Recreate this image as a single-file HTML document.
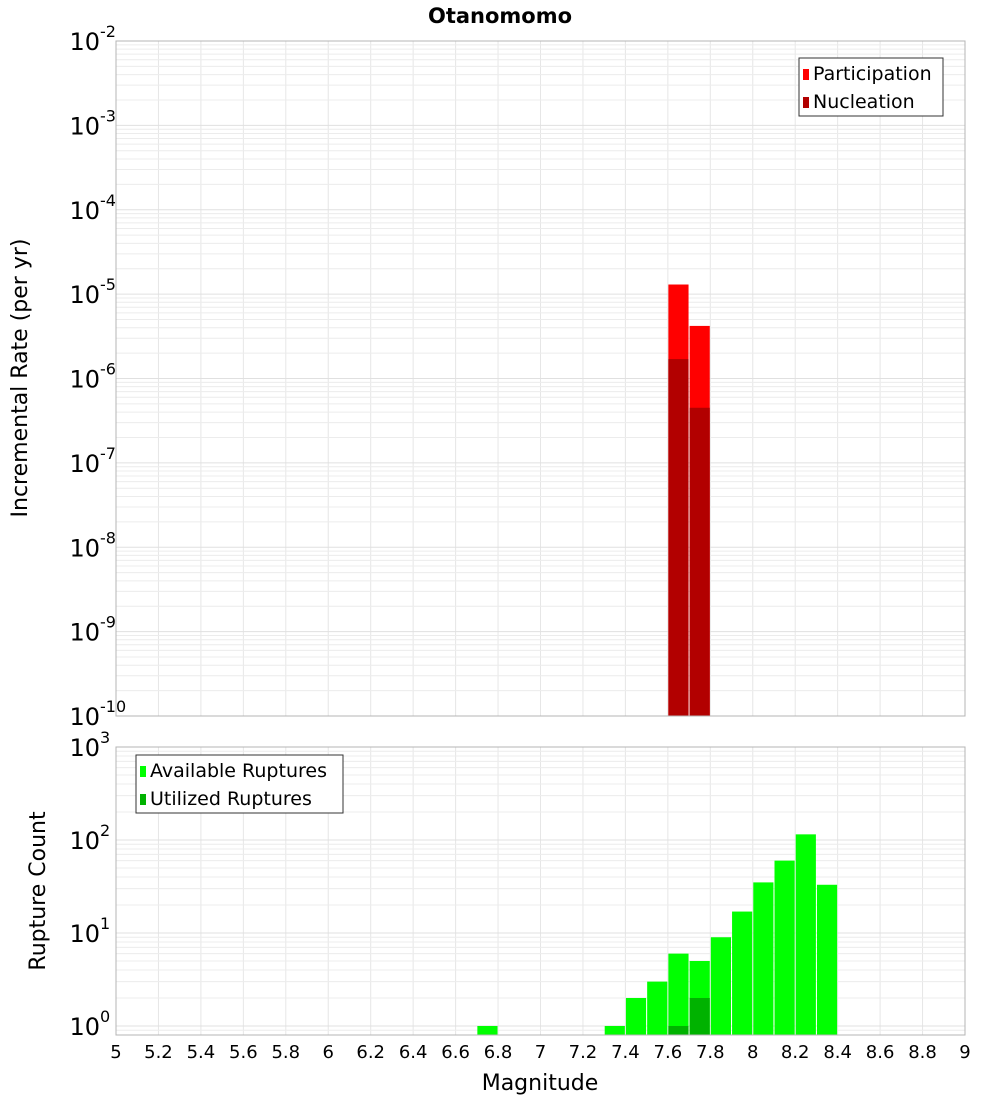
<!DOCTYPE html>
<html><head><meta charset="utf-8"><style>
body{margin:0;background:#fff;font-family:"DejaVu Sans","Liberation Sans",sans-serif}
svg text{font-family:"DejaVu Sans","Liberation Sans",sans-serif}
</style></head><body>
<svg id="c" width="1000" height="1100" xmlns="http://www.w3.org/2000/svg">
<text x="500" y="23" text-anchor="middle" font-size="21" font-weight="bold">Otanomomo</text>
<text transform="translate(27,378) rotate(-90)" text-anchor="middle" font-size="22">Incremental Rate (per yr)</text>
<text transform="translate(45,891) rotate(-90)" text-anchor="middle" font-size="22">Rupture Count</text>
<text x="540" y="1090" text-anchor="middle" font-size="22">Magnitude</text>
<g id="g"></g>
</svg>
<script>
const mags=[7.65,7.75];
const participation=[1.3e-5,4.2e-6];
const nucleation=[1.7e-6,4.5e-7];
const countMags=[6.75,7.35,7.45,7.55,7.65,7.75,7.85,7.95,8.05,8.15,8.25,8.35];
const available=[1,1,2,3,6,5,9,17,35,60,115,33];
const utilMags=[7.65,7.75];
const utilized=[1,2];
const xTicks=["5","5.2","5.4","5.6","5.8","6","6.2","6.4","6.6","6.8","7","7.2","7.4","7.6","7.8","8","8.2","8.4","8.6","8.8","9"];
const topExp=[-10,-9,-8,-7,-6,-5,-4,-3,-2];
const botExp=[0,1,2,3];

const NS="http://www.w3.org/2000/svg";
const g=document.getElementById('g');
const L=116,R=965;
const T1=41,B1=716,T2=747,B2=1035;
const x=m=>L+(m-5)/4*(R-L);
const y1=v=>T1+(-2-Math.log10(v))/8*(B1-T1);
const dec2=(B2-T2)/(3-Math.log10(0.8));
const y2=v=>T2+(3-Math.log10(v))*dec2;
function el(t,a,p){const e=document.createElementNS(NS,t);for(const k in a)e.setAttribute(k,a[k]);(p||g).appendChild(e);return e;}

function grid(T,B,yf,lo,hi,nm){
  xTicks.forEach(t=>{const e=el('line',{x1:x(+t),x2:x(+t),y1:T,y2:B,stroke:'#e6e6e6','stroke-width':1});
  
  });
  for(let d=lo;d<hi;d++)for(let k=1;k<10;k++){const yy=yf(k*Math.pow(10,d));if(yy<T||yy>B)continue;
    const e=el('line',{x1:L,x2:R,y1:yy,y2:yy,stroke:k==1?'#e0e0e0':'#ececec','stroke-width':1});
    
    }
}
grid(T1,B1,y1,-10,-2,'top');
grid(T2,B2,y2,-1,3,'bottom');

const bw=0.095;
function bar(m,v,yf,B,fill,nm){
  const yy=Math.max(yf(v),0);
  const e=el('rect',{x:x(m-bw/2),y:yy,width:x(m+bw/2)-x(m-bw/2),height:Math.max(0,B-yy),fill:fill});
  
  
}
mags.forEach((m,i)=>bar(m,participation[i],y1,B1,'#ff0000','participation-bar'));
mags.forEach((m,i)=>bar(m,nucleation[i],y1,B1,'#b20000','nucleation-bar'));
countMags.forEach((m,i)=>bar(m,available[i],y2,B2,'#00ff00','available-bar'));
utilMags.forEach((m,i)=>bar(m,utilized[i],y2,B2,'#00b200','utilized-bar'));

[[T1,B1,'top-plot-frame'],[T2,B2,'bottom-plot-frame']].forEach(([T,B,n])=>{
  const e=el('rect',{x:L,y:T,width:R-L,height:B-T,fill:'none',stroke:'#b4b4b4','stroke-width':1});
  
  });

function pow(xp,yp,e,nm){
  const t=el('text',{x:xp,y:yp,'font-size':24,'text-anchor':'end'});
  
  
  t.textContent='10';
  const s=el('text',{x:xp,y:yp-13,'font-size':16});
  
  
  s.textContent=String(e);
}
topExp.forEach(e=>pow(100,y1(Math.pow(10,e))+9,e,'top-y-tick-label'));
botExp.forEach(e=>pow(100,y2(Math.pow(10,e))+9,e,'bottom-y-tick-label'));
xTicks.forEach(t=>{const e=el('text',{x:x(+t),y:1058,'font-size':18,'text-anchor':'middle'});
  
  
  e.textContent=t;});

function legend(x0,y0,w,items,nm){
  const b=el('rect',{x:x0,y:y0,width:w,height:58,fill:'#fff',stroke:'#333','stroke-width':1});
  
  
  items.forEach(([lab,c],i)=>{
    const r=el('rect',{x:x0+4,y:y0+11+i*28,width:6,height:11,fill:c});
    
    
    const t=el('text',{x:x0+14,y:y0+22+i*28,'font-size':19});
    
    
    t.textContent=lab;});
}
legend(799,58,144,[['Participation','#ff0000'],['Nucleation','#b20000']],'top-legend');
legend(136,755,207,[['Available Ruptures','#00ff00'],['Utilized Ruptures','#00b200']],'bottom-legend');
</script>
</body></html>
